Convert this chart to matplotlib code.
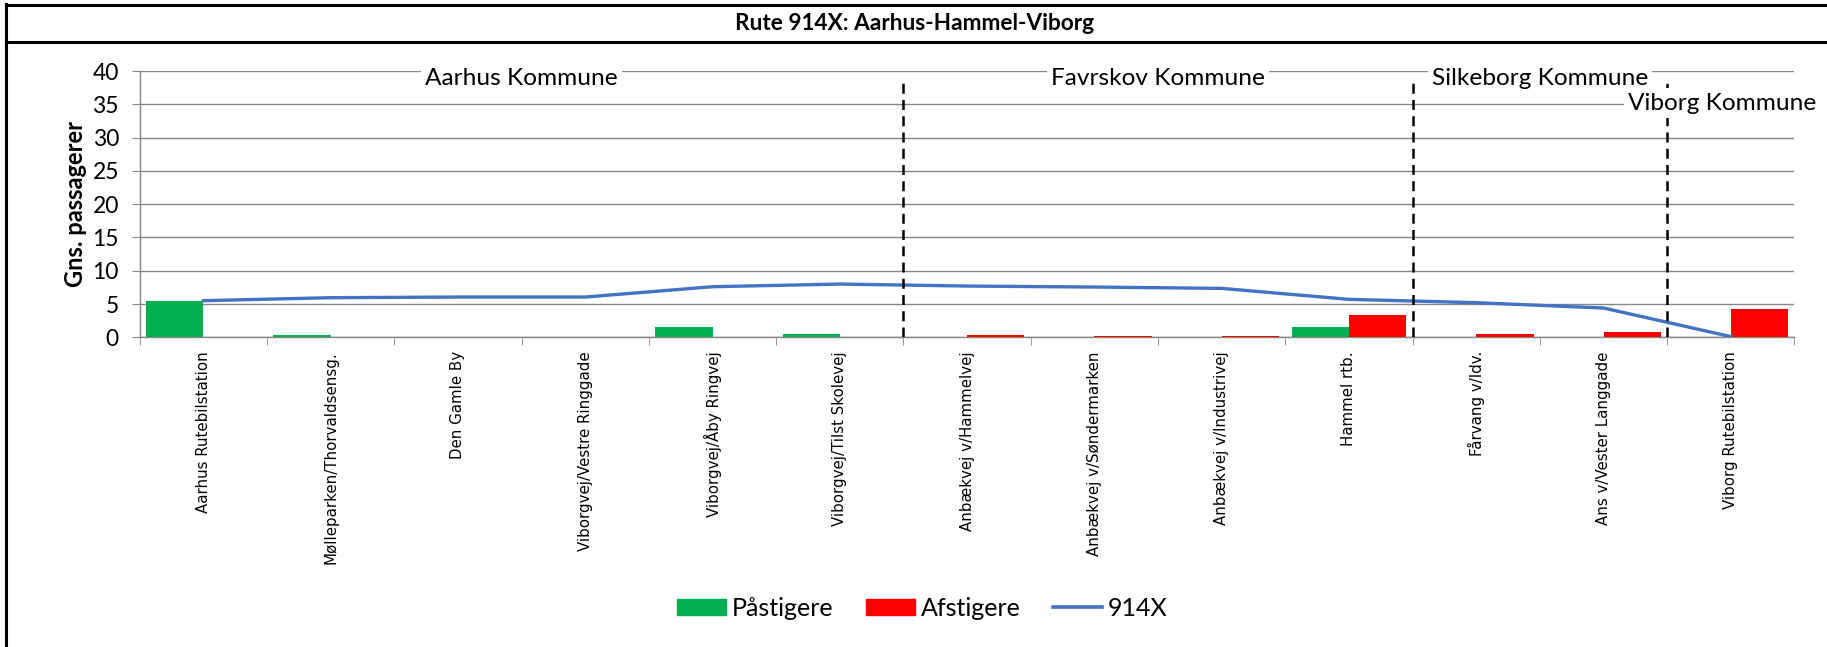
import numpy as np
import matplotlib
matplotlib.use("Agg")
import matplotlib.pyplot as plt
from matplotlib.lines import Line2D
from matplotlib.patches import Patch

# Data
stops = ["Aarhus Rutebilstation", "Mølleparken/Thorvaldsensg.", "Den Gamle By",
         "Viborgvej/Vestre Ringgade", "Viborgvej/Åby Ringvej", "Viborgvej/Tilst Skolevej",
         "Anbækvej v/Hammelvej", "Anbækvej v/Søndermarken", "Anbækvej v/Industrivej",
         "Hammel rtb.", "Fårvang v/Idv.", "Ans v/Vester Langgade", "Viborg Rutebilstation"]
paastigere = [5.5, 0.4, 0.05, 0.0, 1.55, 0.5, 0.05, 0.0, 0.0, 1.6, 0.0, 0.05, 0.0]
afstigere = [0.0, 0.0, 0.02, 0.02, 0.05, 0.05, 0.4, 0.22, 0.22, 3.3, 0.5, 0.8, 4.2]
belastning = [5.5, 5.95, 6.05, 6.05, 7.6, 8.0, 7.7, 7.55, 7.35, 5.7, 5.2, 4.4, 0.1]

kommuner = ["Aarhus Kommune", "Favrskov Kommune", "Silkeborg Kommune", "Viborg Kommune"]
kommune_x = [2.5, 7.5, 10.5, 11.93]
kommune_y = [38.9, 38.9, 38.9, 35.2]
graenser = [5.5, 9.5, 11.5]

GRØN = "#00B050"
RØD = "#FF0000"
BLÅ = "#4472C4"
GRÅ = "#868686"
font = "Lato"

fig = plt.figure(figsize=(18.27, 6.47), dpi=100)
ax = fig.add_axes([0.0765, 0.4787, 0.9057, 0.4113])

x = np.arange(len(stops))
w = 0.45
ax.bar(x - w / 2, paastigere, width=w, color=GRØN, zorder=3, label="Påstigere")
ax.bar(x + w / 2, afstigere, width=w, color=RØD, zorder=3, label="Afstigere")
ax.plot(x, belastning, color=BLÅ, lw=2.4, zorder=4, label="914X")

ax.set_xlim(-0.5, len(stops) - 0.5)
ax.set_ylim(0, 40)
ax.set_yticks(range(0, 41, 5))
ax.yaxis.grid(True, color=GRÅ, lw=1, zorder=0)
ax.set_axisbelow(True)

for s in ["top", "right"]:
    ax.spines[s].set_visible(False)
for s in ["left", "bottom"]:
    ax.spines[s].set_color(GRÅ)
    ax.spines[s].set_linewidth(1)

ax.tick_params(axis="y", length=6, color=GRÅ, pad=9, labelsize=16.5)
for t in ax.get_yticklabels():
    t.set_fontfamily(font)

ax.set_xticks(x)
ax.set_xticklabels(stops, rotation=90, fontsize=10.8, family="DejaVu Sans", va="top", ha="center")
ax.tick_params(axis="x", which="major", length=0, pad=10)
ax.set_xticks(np.arange(-0.5, len(stops), 1), minor=True)
ax.tick_params(axis="x", which="minor", length=6, color=GRÅ)

ax.set_ylabel("Gns. passagerer", fontsize=17, fontweight="bold", family=font, labelpad=4)

# kommunegrænser
for g in graenser:
    ax.plot([g, g], [0, 39.1], color="black", lw=1.8, ls=(0, (4, 2.5)), zorder=5)

for navn, kx, ky in zip(kommuner, kommune_x, kommune_y):
    ax.text(kx, ky, navn, ha="center", va="center", fontsize=17.6, family=font,
            zorder=6, clip_on=False,
            bbox=dict(facecolor="white", edgecolor="none", pad=3))

# ramme og titel
fig.add_artist(Line2D([6 / 1827, 6 / 1827], [0, 1 - 4 / 647], color="black", lw=2.2))
fig.add_artist(Line2D([6 / 1827, 1], [1 - 4.5 / 647, 1 - 4.5 / 647], color="black", lw=2.2))
fig.add_artist(Line2D([6 / 1827, 1], [1 - 42 / 647, 1 - 42 / 647], color="black", lw=2.2))
fig.text(0.5006, 1 - 23 / 647, "Rute 914X: Aarhus-Hammel-Viborg", ha="center", va="center",
         fontsize=16.3, fontweight="bold", family=font)

handles = [Patch(color=GRØN), Patch(color=RØD), Line2D([], [], color=BLÅ, lw=2.6)]
fig.legend(handles, ["Påstigere", "Afstigere", "914X"], loc="center", ncol=3,
           bbox_to_anchor=(0.505, 0.06), frameon=False, prop={"family": font, "size": 18},
           handlelength=1.96, handleheight=0.65, handletextpad=0.23, columnspacing=1.3)

fig.savefig("out.png", dpi=100)
